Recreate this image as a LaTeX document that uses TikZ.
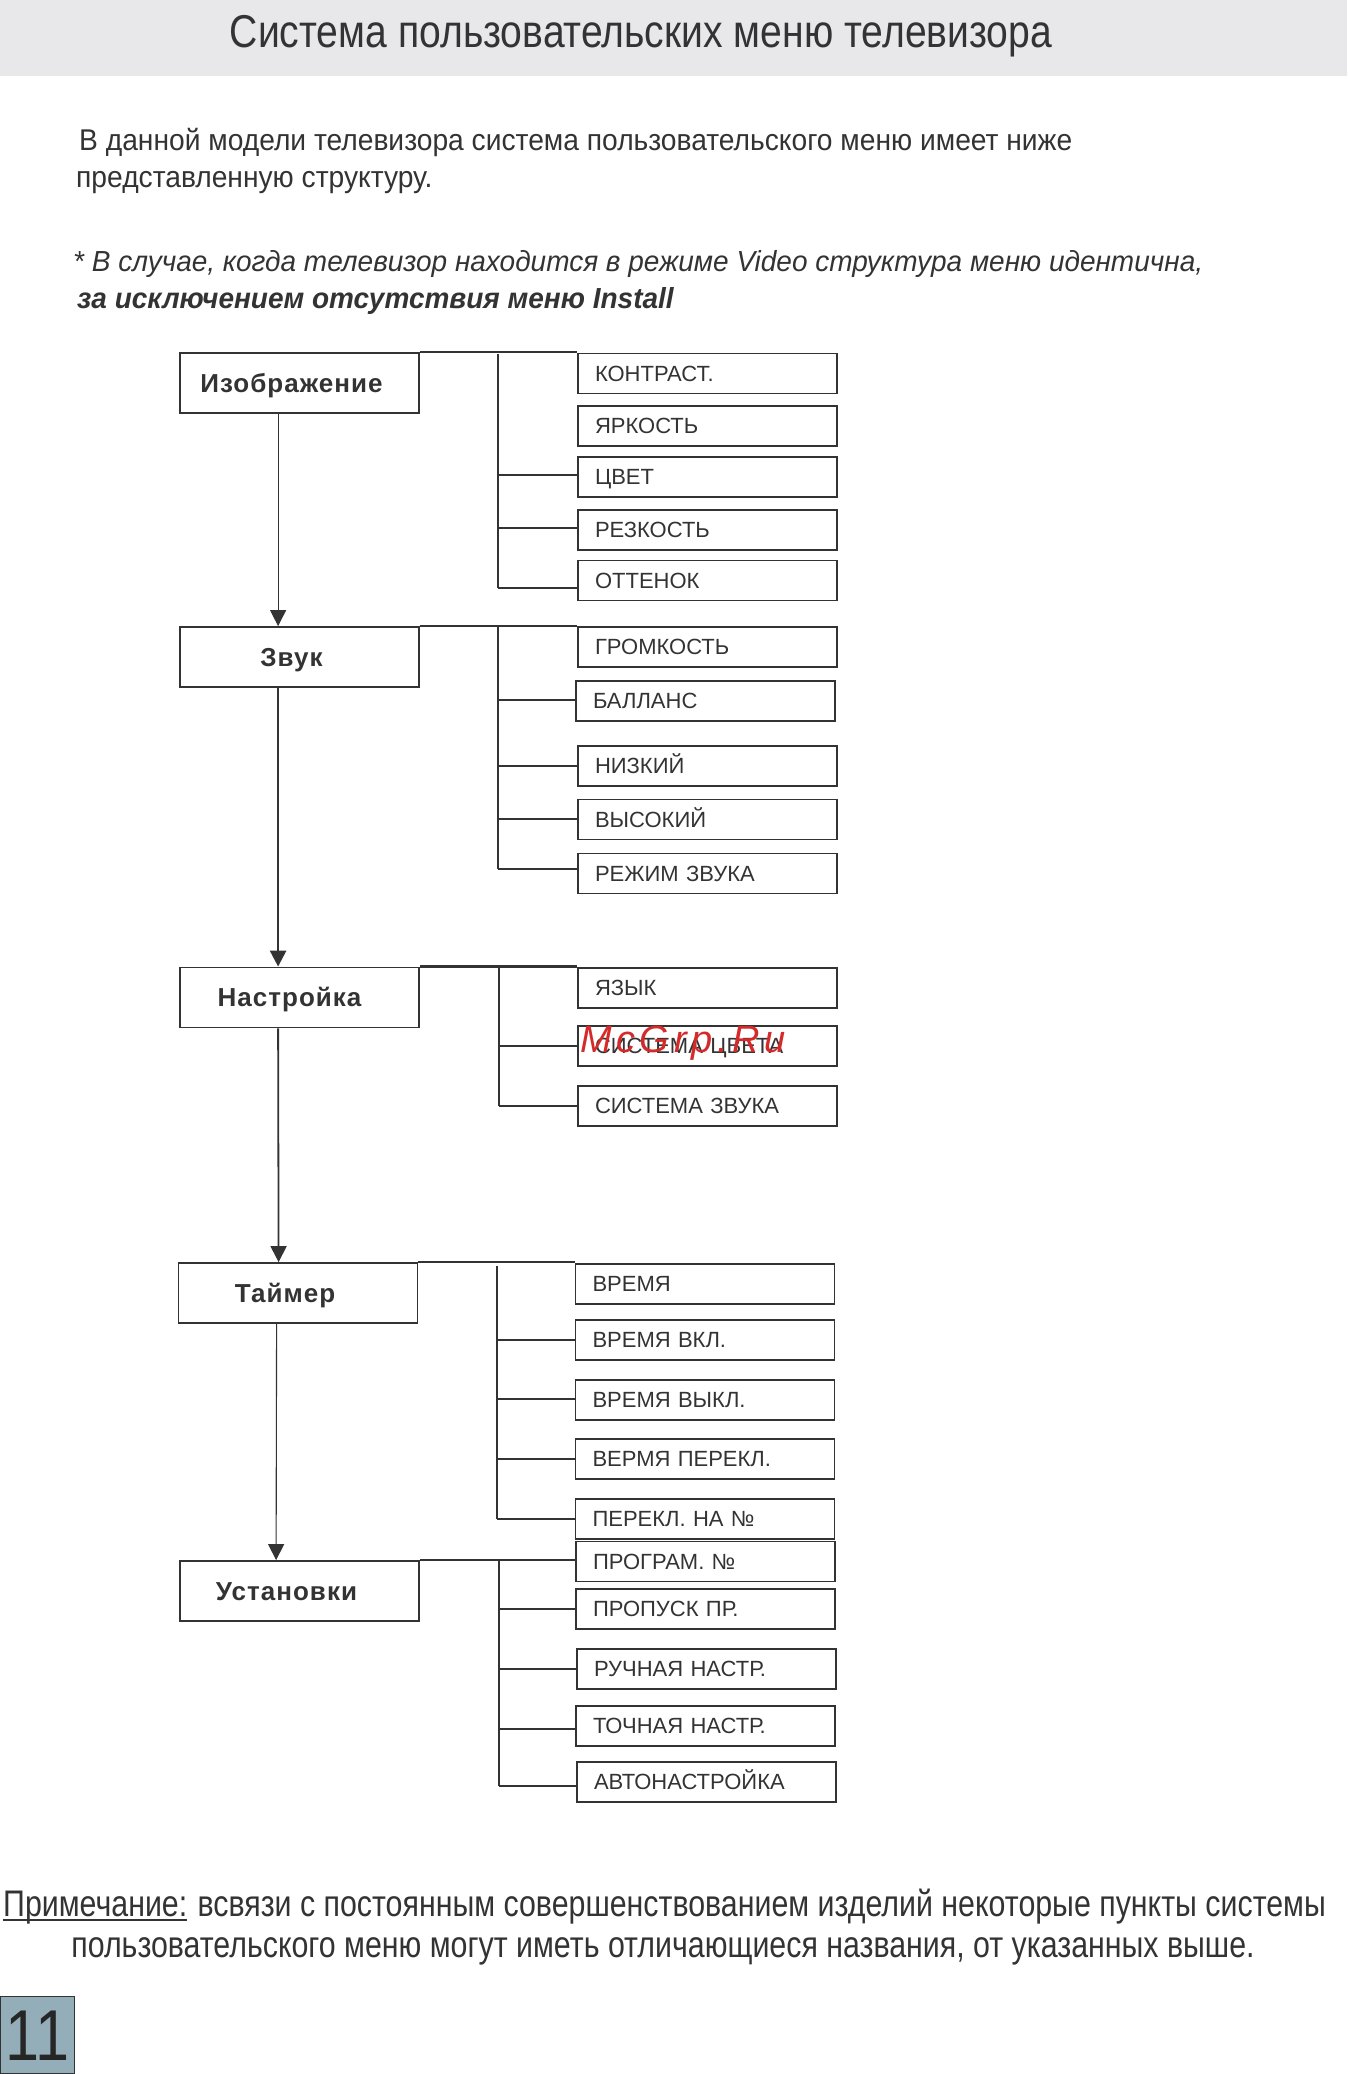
\documentclass[tikz,border=0pt]{standalone}
\usepackage{fontspec}
\setmainfont{Liberation Sans}
\newfontfamily\condf[FakeStretch=0.85]{Liberation Sans}
\newfontfamily\notef[FakeStretch=0.82]{Liberation Sans}
\newfontfamily\introf[FakeStretch=0.94]{Liberation Sans}
\newfontfamily\italf[FakeStretch=0.965]{Liberation Sans}
\newfontfamily\boldsp[LetterSpace=4]{Liberation Sans}
\newfontfamily\wmf[LetterSpace=12]{Liberation Sans}
\usetikzlibrary{arrows.meta,calc}
\definecolor{ink}{HTML}{333333}
\definecolor{band}{HTML}{E8E8EA}
\definecolor{pagebg}{HTML}{94AEB9}
\definecolor{wmred}{HTML}{D42A2A}
\begin{document}
\begin{tikzpicture}[x=1pt,y=-1pt,
  mainbox/.style={draw=ink, line width=1.8pt, minimum width=239pt, minimum height=60pt, inner sep=0pt,
    font=\boldsp\bfseries\fontsize{26}{30}\selectfont, text=ink, text height=18.6pt, text depth=0pt},
  subbox/.style={draw=ink, line width=1.8pt, minimum height=40pt, text width=225pt, inner xsep=17pt, inner ysep=0pt,
    align=left, font=\fontsize{22}{26}\selectfont, text=ink, text height=15.7pt, text depth=0pt},
  thickline/.style={draw=ink, line width=2.6pt},
  thinline/.style={draw=ink, line width=1.1pt},
  midline/.style={draw=ink, line width=1.8pt},
  arr/.style={-{Triangle[width=16pt,length=16pt]}},
  txt/.style={inner sep=0pt, text=ink}]
\useasboundingbox (0,0) rectangle (1347,2074);
\fill[band] (0,0) rectangle (1347,76);
\node[txt, anchor=base, font=\condf\fontsize{46}{50}\selectfont] (title) at (641,48) {Система пользовательских меню телевизора};
\node[txt, anchor=base west, font=\introf\fontsize{30}{34}\selectfont] (i1) at (79,150) {В данной модели телевизора система пользовательского меню имеет ниже};
\node[txt, anchor=base west, font=\introf\fontsize{30}{34}\selectfont] (i2) at (76,187) {представленную структуру.};
\node[txt, anchor=base west, font=\italf\itshape\fontsize{29}{33}\selectfont] (i3) at (73,271) {* В случае, когда телевизор находится в режиме Video структура меню идентична,};
\node[txt, anchor=base west, font=\italf\bfseries\itshape\fontsize{29}{33}\selectfont] (i4) at (77,308) {за исключением отсутствия меню Install};

% main boxes
\node[mainbox] (im) at (299.5,383) {Изображение\kern16pt};
\node[mainbox] (zv) at (299.5,657) {Звук\kern16pt};
\node[mainbox] (ns) at (299.5,997.5) {Настройка\kern20pt};
\node[mainbox] (tm) at (298,1293) {Таймер\kern26pt};
\node[mainbox] (us) at (299.5,1591) {Установки\kern26pt};

% group 1
\node[subbox] (k1) at (707.5,373.5) {КОНТРАСТ.};
\node[subbox] (k2) at (707.5,426) {ЯРКОСТЬ};
\node[subbox] (k3) at (707.5,477) {ЦВЕТ};
\node[subbox] (k4) at (707.5,530) {РЕЗКОСТЬ};
\node[subbox] (k5) at (707.5,580.5) {ОТТЕНОК};
% group 2
\node[subbox] (g1) at (707.5,647) {ГРОМКОСТЬ};
\node[subbox] (g2) at (705.5,701) {БАЛЛАНС};
\node[subbox] (g3) at (707.5,766) {НИЗКИЙ};
\node[subbox] (g4) at (707.5,819.5) {ВЫСОКИЙ};
\node[subbox] (g5) at (707.5,873.5) {РЕЖИМ ЗВУКА};
% group 3
\node[subbox] (n1) at (707.5,988) {ЯЗЫК};
\node[subbox] (n2) at (707.5,1046) {СИСТЕМА ЦВЕТА};
\node[subbox] (n3) at (707.5,1106) {СИСТЕМА ЗВУКА};
% group 4
\node[subbox] (t1) at (705,1284) {ВРЕМЯ};
\node[subbox] (t2) at (705,1340) {ВРЕМЯ ВКЛ.};
\node[subbox] (t3) at (705,1400) {ВРЕМЯ ВЫКЛ.};
\node[subbox] (t4) at (705,1459) {ВЕРМЯ ПЕРЕКЛ.};
\node[subbox] (t5) at (705,1519) {ПЕРЕКЛ. НА №};
% group 5
\node[subbox] (u1) at (705.5,1561.5) {ПРОГРАМ. №};
\node[subbox] (u2) at (705.5,1609) {ПРОПУСК ПР.};
\node[subbox] (u3) at (706.5,1669) {РУЧНАЯ НАСТР.};
\node[subbox] (u4) at (705.5,1726) {ТОЧНАЯ НАСТР.};
\node[subbox] (u5) at (706.5,1782) {АВТОНАСТРОЙКА};

% vertical arrows
\draw[thinline, arr] ($(im.south west)+(99,0)$) -- ($(zv.north west)+(99,0)$);
\draw[thickline, arr] ($(zv.south west)+(99,0)$) -- ($(ns.north west)+(99,0)$);
\draw[midline, arr] ($(ns.south west)+(99,0)$) -- ($(tm.north west)+(101,0)$);
\draw[thinline, arr] ($(tm.south west)+(99,0)$) -- ($(us.north west)+(97,0)$);

% group 1 connectors
\draw[thickline] (im.north east) -- (im.north east -| k1.west);
\coordinate (a1) at (498,354); \coordinate (a2) at (498,588);
\draw[thinline] (a1) -- (a2);
\coordinate (b13) at (498,475); \coordinate (b14) at (498,528);
\draw[thickline] (b13) -- (b13 -| k3.west);
\draw[thinline] (b14) -- (b14 -| k4.west);
\draw[thickline] (a2) -- (a2 -| k5.west);
% group 2
\draw[thickline] (zv.north east) -- (zv.north east -| g1.west);
\coordinate (c1) at (498,627); \coordinate (c2) at (498,869);
\draw[midline] (c1) -- (c2);
\coordinate (b22) at (498,700); \coordinate (b23) at (498,766); \coordinate (b24) at (498,819);
\draw[thickline] (b22) -- (b22 -| g2.west);
\draw[thickline] (b23) -- (b23 -| g3.west);
\draw[thickline] (b24) -- (b24 -| g4.west);
\draw[thickline] (c2) -- (c2 -| g5.west);
% group 3
\draw[thickline] (ns.north east) -- (ns.north east -| n1.west);
\coordinate (d1) at (499,967); \coordinate (d2) at (499,1106);
\draw[thickline] (d1) -- (d2);
\coordinate (b32) at (499,1046);
\draw[thickline] (b32) -- (b32 -| n2.west);
\draw[thickline] (d2) -- (d2 -| n3.west);
% group 4
\draw[thickline] (tm.north east) -- (tm.north east -| t1.west);
\coordinate (e1) at (497,1266); \coordinate (e2) at (497,1519);
\draw[thinline] (e1) -- (e2);
\coordinate (b42) at (497,1340); \coordinate (b43) at (497,1399); \coordinate (b44) at (497,1459);
\draw[thickline] (b42) -- (b42 -| t2.west);
\draw[thinline] (b43) -- (b43 -| t3.west);
\draw[thickline] (b44) -- (b44 -| t4.west);
\draw[thickline] (e2) -- (e2 -| t5.west);
% group 5
\draw[thickline] (us.north east) -- (us.north east -| u1.west);
\coordinate (f1) at (499,1561); \coordinate (f2) at (499,1786);
\draw[thinline] (f1) -- (f2);
\coordinate (b52) at (499,1609); \coordinate (b53) at (499,1669); \coordinate (b54) at (499,1729);
\draw[thinline] (b52) -- (b52 -| u2.west);
\draw[thickline] (b53) -- (b53 -| u3.west);
\draw[thickline] (b54) -- (b54 -| u4.west);
\draw[thinline] (f2) -- (f2 -| u5.west);

% watermark
\node[inner sep=0pt, anchor=base west, text=wmred, font=\wmf\itshape\fontsize{38}{40}\selectfont] (wm) at (580,1052) {McGrp.Ru};

% note
\node[txt, anchor=base west, font=\notef\fontsize{37}{40}\selectfont] (pr) at (3,1916) {Примечание:};
\node[txt, anchor=base west, font=\notef\fontsize{37}{40}\selectfont] (nt1) at ($(pr.base east)+(10,0)$) {всвязи с постоянным совершенствованием изделий некоторые пункты системы};
\draw[ink, line width=1.3pt] ($(pr.base west)+(0,4)$) -- ($(pr.base east)+(0,4)$);
\node[txt, anchor=base, font=\notef\fontsize{37}{40}\selectfont] (nt2) at (663,1957) {пользовательского меню могут иметь отличающиеся названия, от указанных выше.};

% page number
\node[draw=ink, fill=pagebg, line width=1pt, minimum width=74pt, minimum height=77pt, inner sep=0pt, anchor=south west,
  font=\condf\fontsize{72}{76}\selectfont, text=black!85, text height=51.5pt, text depth=0pt] (pg) at (0,2074) {11};
\end{tikzpicture}
\end{document}
